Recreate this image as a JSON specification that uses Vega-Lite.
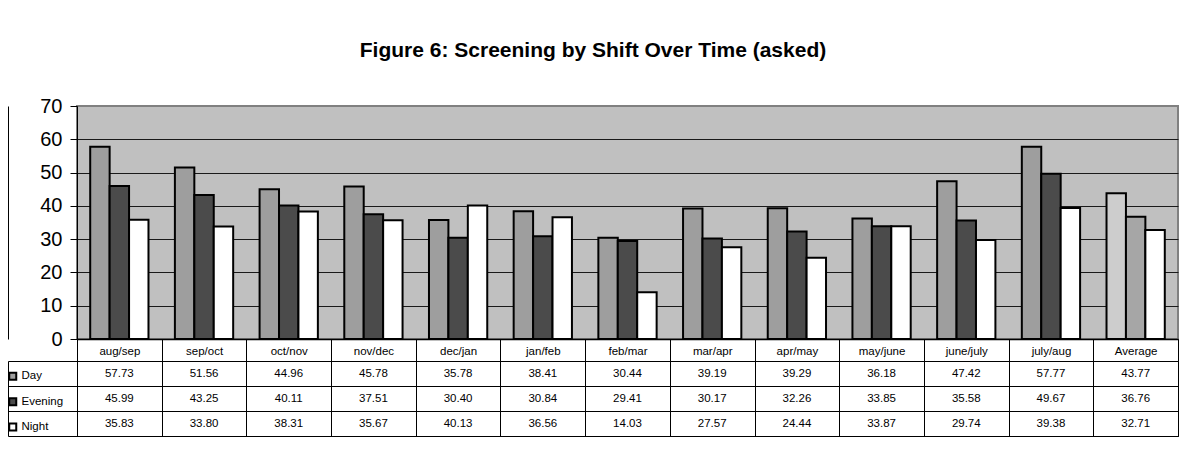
{
  "$schema": "https://vega.github.io/schema/vega-lite/v6.json",
  "background": "white",
  "padding": {"left": 6, "top": 40, "right": 0, "bottom": 0},
  "config": {"font": "Liberation Sans", "view": {"stroke": null}},
  "title": {"text": "Figure 6: Screening by Shift Over Time (asked)", "fontSize": 21, "font": "Liberation Sans", "fontWeight": "bold", "color": "black", "offset": 34, "anchor": "middle"},
  "datasets": {
    "vals": [
      {"period": "aug/sep", "shift": "Day", "value": 57.73},
      {"period": "aug/sep", "shift": "Evening", "value": 45.99},
      {"period": "aug/sep", "shift": "Night", "value": 35.83},
      {"period": "sep/oct", "shift": "Day", "value": 51.56},
      {"period": "sep/oct", "shift": "Evening", "value": 43.25},
      {"period": "sep/oct", "shift": "Night", "value": 33.80},
      {"period": "oct/nov", "shift": "Day", "value": 44.96},
      {"period": "oct/nov", "shift": "Evening", "value": 40.11},
      {"period": "oct/nov", "shift": "Night", "value": 38.31},
      {"period": "nov/dec", "shift": "Day", "value": 45.78},
      {"period": "nov/dec", "shift": "Evening", "value": 37.51},
      {"period": "nov/dec", "shift": "Night", "value": 35.67},
      {"period": "dec/jan", "shift": "Day", "value": 35.78},
      {"period": "dec/jan", "shift": "Evening", "value": 30.40},
      {"period": "dec/jan", "shift": "Night", "value": 40.13},
      {"period": "jan/feb", "shift": "Day", "value": 38.41},
      {"period": "jan/feb", "shift": "Evening", "value": 30.84},
      {"period": "jan/feb", "shift": "Night", "value": 36.56},
      {"period": "feb/mar", "shift": "Day", "value": 30.44},
      {"period": "feb/mar", "shift": "Evening", "value": 29.41},
      {"period": "feb/mar", "shift": "Night", "value": 14.03},
      {"period": "mar/apr", "shift": "Day", "value": 39.19},
      {"period": "mar/apr", "shift": "Evening", "value": 30.17},
      {"period": "mar/apr", "shift": "Night", "value": 27.57},
      {"period": "apr/may", "shift": "Day", "value": 39.29},
      {"period": "apr/may", "shift": "Evening", "value": 32.26},
      {"period": "apr/may", "shift": "Night", "value": 24.44},
      {"period": "may/june", "shift": "Day", "value": 36.18},
      {"period": "may/june", "shift": "Evening", "value": 33.85},
      {"period": "may/june", "shift": "Night", "value": 33.87},
      {"period": "june/july", "shift": "Day", "value": 47.42},
      {"period": "june/july", "shift": "Evening", "value": 35.58},
      {"period": "june/july", "shift": "Night", "value": 29.74},
      {"period": "july/aug", "shift": "Day", "value": 57.77},
      {"period": "july/aug", "shift": "Evening", "value": 49.67},
      {"period": "july/aug", "shift": "Night", "value": 39.38},
      {"period": "Average", "shift": "Day", "value": 43.77},
      {"period": "Average", "shift": "Evening", "value": 36.76},
      {"period": "Average", "shift": "Night", "value": 32.71}
    ]
  },
  "vconcat": [
    {
      "width": 1101,
      "height": 233,
      "data": {"name": "vals"},
      "view": {"fill": "#c0c0c0", "stroke": "#808080", "strokeWidth": 2},
      "layer": [
        {
          "transform": [{"filter": "datum.period !== 'Average'"}],
          "mark": {"type": "bar", "stroke": "black", "strokeWidth": 2},
          "encoding": {
            "x": {"field": "period", "type": "nominal", "scale": {"domain": ["aug/sep", "sep/oct", "oct/nov", "nov/dec", "dec/jan", "jan/feb", "feb/mar", "mar/apr", "apr/may", "may/june", "june/july", "july/aug", "Average"], "paddingInner": 0, "paddingOuter": 0}, "axis": {"title": null, "labels": true, "labelFontSize": 11.5, "labelFont": "Liberation Sans", "labelColor": "black", "labelAngle": 0, "labelPadding": -16, "labelOverlap": false, "ticks": true, "tickBand": "extent", "tickSize": 22, "tickColor": "black", "tickWidth": 1, "domainColor": "black", "domainWidth": 1.5, "grid": false}},
            "xOffset": {"field": "shift", "type": "nominal", "scale": {"domain": ["Day", "Evening", "Night"], "paddingOuter": 0.68, "paddingInner": 0}},
            "y": {"field": "value", "type": "quantitative", "scale": {"domain": [0, 70], "nice": false}, "axis": {"values": [0, 10, 20, 30, 40, 50, 60, 70], "title": null, "labelFontSize": 20, "labelColor": "black", "labelFont": "Liberation Sans", "tickColor": "black", "tickSize": 7, "labelPadding": 8, "domainColor": "black", "grid": true, "gridColor": {"condition": {"test": "datum.value === 70", "value": "#808080"}, "value": "#1a1a1a"}}},
            "fill": {"field": "shift", "type": "nominal", "scale": {"domain": ["Day", "Evening", "Night"], "range": ["#9e9e9e", "#4b4b4b", "#ffffff"]}, "legend": null}
          }
        },
        {
          "transform": [{"filter": "datum.period === 'Average'"}],
          "mark": {"type": "bar", "stroke": "black", "strokeWidth": 2},
          "encoding": {
            "x": {"field": "period", "type": "nominal", "scale": {"domain": ["aug/sep", "sep/oct", "oct/nov", "nov/dec", "dec/jan", "jan/feb", "feb/mar", "mar/apr", "apr/may", "may/june", "june/july", "july/aug", "Average"], "paddingInner": 0, "paddingOuter": 0}},
            "xOffset": {"field": "shift", "type": "nominal", "scale": {"domain": ["Day", "Evening", "Night"], "paddingOuter": 0.68, "paddingInner": 0}},
            "y": {"field": "value", "type": "quantitative", "scale": {"domain": [0, 70], "nice": false}, "axis": null},
            "fill": {"field": "shift", "type": "nominal", "scale": {"domain": ["Day", "Evening", "Night"], "range": ["#cdcdcd", "#a6a6a6", "#ffffff"]}, "legend": null}
          }
        },
        {
          "mark": {"type": "text", "text": ""},
          "encoding": {
            "y": {"field": "value", "type": "quantitative", "scale": {"domain": [0, 70], "nice": false}, "axis": {"orient": "left", "offset": 69, "labels": false, "ticks": false, "grid": false, "domainColor": "black", "title": null}}
          }
        }
      ],
      "resolve": {"scale": {"fill": "independent", "y": "independent"}}
    },
    {
      "width": 1101,
      "height": 75,
      "data": {"name": "vals"},
      "view": {"fill": "white", "stroke": "black", "strokeWidth": 1},
      "layer": [
        {
          "mark": {"type": "text", "fontSize": 11.5, "font": "Liberation Sans", "color": "black"},
          "encoding": {
            "x": {"field": "period", "type": "nominal", "scale": {"domain": ["aug/sep", "sep/oct", "oct/nov", "nov/dec", "dec/jan", "jan/feb", "feb/mar", "mar/apr", "apr/may", "may/june", "june/july", "july/aug", "Average"], "paddingInner": 0, "paddingOuter": 0}, "axis": {"orient": "top", "labels": false, "ticks": false, "domain": false, "grid": true, "gridColor": "black", "tickBand": "extent", "title": null}},
            "y": {"field": "shift", "type": "nominal", "scale": {"domain": ["Day", "Evening", "Night"], "paddingInner": 0, "paddingOuter": 0}, "axis": {"orient": "left", "offset": 69, "tickBand": "extent", "tickSize": -1170, "tickColor": "black", "ticks": true, "labels": false, "domain": true, "domainColor": "black", "grid": false, "title": null}},
            "text": {"field": "value", "type": "quantitative", "format": ".2f"}
          }
        },
        {
          "mark": {"type": "text", "text": ""},
          "encoding": {
            "fill": {"field": "shift", "type": "nominal", "scale": {"domain": ["Day", "Evening", "Night"], "range": ["#9e9e9e", "#4b4b4b", "#ffffff"]}, "legend": {"orient": "left", "offset": -57, "title": " ", "titleFontSize": 4, "titlePadding": 5.5, "padding": 0, "symbolType": "square", "symbolSize": 49, "symbolStrokeColor": "black", "symbolStrokeWidth": 2, "symbolOpacity": 1, "labelFontSize": 11.5, "labelColor": "black", "labelFont": "Liberation Sans", "labelOffset": 3, "rowPadding": 9.4}}
          }
        }
      ]
    }
  ],
  "bounds": "flush",
  "spacing": 22,
  "resolve": {"scale": {"fill": "independent"}}
}
